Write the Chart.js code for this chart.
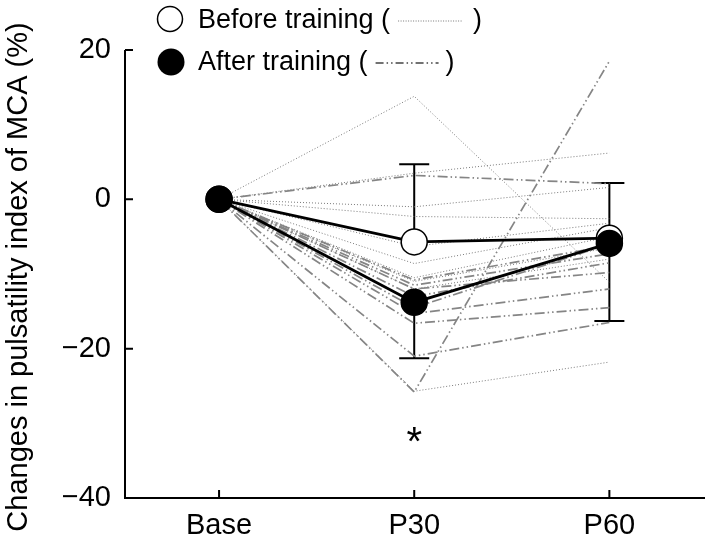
<!DOCTYPE html>
<html lang="en">
<head>
    <meta charset="UTF-8">
    <title>Pulsatility index of MCA</title>
    <script src="https://cdn.jsdelivr.net/npm/chart.js"></script>
    <style>
        body { margin: 0; background: #fff; }
        #wrap { width: 709px; height: 547px; }
    </style>
</head>
<body>
    <div id="wrap"><canvas id="myChart"></canvas></div>
    <script>
        // time points
        const labels = ['Base', 'P30', 'P60'];
        const yTicks = [20, 0, -20, -40];

        // individual subjects, before training (dotted)
        const before = [
            [0, 13.8, -11.1],
            [0, 3.5, 6.2],
            [0, -1.0, 1.6],
            [0, -2.3, -2.6],
            [0, -6.3, -3.2],
            [0, -8.6, -3.8],
            [0, -11.0, -6.5],
            [0, -12.0, -8.0],
            [0, -25.7, -21.8],
            [0, -10.5, -5.0]
        ];

        // individual subjects, after training (dash-dot)
        const after = [
            [0, 3.2, 2.1],
            [0, -10.8, -6.2],
            [0, -11.5, -7.3],
            [0, -12.0, -9.8],
            [0, -13.0, -8.5],
            [0, -15.3, -12.0],
            [0, -16.6, -14.5],
            [0, -21.0, -16.5],
            [0, -25.8, 18.5],
            [0, -14.5, -6.0]
        ];

        // group means and SD (before: bar up, after: bar down)
        const meanBefore = [0, -5.7, -5.2];
        const sdBefore = [0, 10.4, 7.4];
        const meanAfter = [0, -13.8, -5.9];
        const sdAfter = [0, 7.5, 10.4];

        const font = "'Liberation Sans', Arial, sans-serif";

        function pts(arr) {
            return arr.map((v, i) => ({ x: i, y: v }));
        }

        const datasets = [];
        before.forEach(s => datasets.push({
            data: pts(s), borderColor: '#7a7a7a', borderWidth: 1,
            borderDash: [1, 2], pointRadius: 0, order: 3
        }));
        after.forEach(s => datasets.push({
            data: pts(s), borderColor: '#858585', borderWidth: 1.7,
            borderDash: [10, 3, 1.5, 3, 1.5, 3], pointRadius: 0, order: 2
        }));
        datasets.push({
            data: pts(meanBefore), borderColor: '#000', borderWidth: 2.8,
            pointRadius: 13, pointBackgroundColor: '#fff', pointBorderColor: '#000',
            pointBorderWidth: 1.5, order: 1
        });
        datasets.push({
            data: pts(meanAfter), borderColor: '#000', borderWidth: 2.8,
            pointRadius: 13, pointBackgroundColor: '#000', pointBorderColor: '#000',
            pointBorderWidth: 1.5, order: 0
        });

        const errorBars = {
            id: 'errorBars',
            beforeDatasetsDraw(chart) {
                const { ctx, scales: { x, y } } = chart;
                ctx.save();
                ctx.strokeStyle = '#000';
                ctx.lineWidth = 2;
                const bar = (i, m, end) => {
                    const px = x.getPixelForValue(i);
                    ctx.beginPath();
                    ctx.moveTo(px, y.getPixelForValue(m));
                    ctx.lineTo(px, y.getPixelForValue(end));
                    ctx.moveTo(px - 15, y.getPixelForValue(end));
                    ctx.lineTo(px + 15, y.getPixelForValue(end));
                    ctx.stroke();
                };
                for (let i = 1; i < labels.length; i++) {
                    bar(i, meanBefore[i], meanBefore[i] + sdBefore[i]);
                    bar(i, meanAfter[i], meanAfter[i] - sdAfter[i]);
                }
                ctx.restore();
            }
        };

        const decorations = {
            id: 'decorations',
            afterDraw(chart) {
                const { ctx, scales: { x, y } } = chart;
                ctx.save();
                // axes with inward ticks
                ctx.strokeStyle = '#000';
                ctx.lineWidth = 2;
                const left = x.left, bottom = y.bottom;
                ctx.beginPath();
                ctx.moveTo(left, y.top);
                ctx.lineTo(left, bottom);
                ctx.lineTo(x.right, bottom);
                yTicks.forEach(v => {
                    const py = y.getPixelForValue(v);
                    ctx.moveTo(left, py);
                    ctx.lineTo(left + 8, py);
                });
                labels.forEach((l, i) => {
                    const px = x.getPixelForValue(i);
                    ctx.moveTo(px, bottom);
                    ctx.lineTo(px, bottom - 8);
                });
                ctx.stroke();

                // asterisk
                ctx.fillStyle = '#000';
                ctx.font = '40px ' + font;
                ctx.textAlign = 'center';
                ctx.textBaseline = 'middle';
                ctx.fillText('*', x.getPixelForValue(1), 444);

                // y axis title
                ctx.save();
                ctx.translate(19, 277);
                ctx.rotate(-Math.PI / 2);
                ctx.font = '29px ' + font;
                ctx.fillText('Changes in pulsatility index of MCA (%)', 0, 0);
                ctx.restore();

                // legend
                ctx.font = '27px ' + font;
                ctx.textAlign = 'left';
                ctx.lineWidth = 1.5;
                ctx.beginPath();
                ctx.arc(170, 19, 12.5, 0, Math.PI * 2);
                ctx.fillStyle = '#fff';
                ctx.fill();
                ctx.stroke();
                ctx.beginPath();
                ctx.arc(171, 62, 13.5, 0, Math.PI * 2);
                ctx.fillStyle = '#000';
                ctx.fill();

                let t = 'Before training (';
                ctx.fillText(t, 198, 21);
                let sx = 198 + ctx.measureText(t).width + 8;
                ctx.strokeStyle = '#777';
                ctx.lineWidth = 1;
                ctx.setLineDash([1, 1.5]);
                ctx.beginPath();
                ctx.moveTo(sx, 21);
                ctx.lineTo(sx + 64, 21);
                ctx.stroke();
                ctx.fillText(')', sx + 75, 21);

                t = 'After training (';
                ctx.fillText(t, 198, 63);
                sx = 198 + ctx.measureText(t).width + 8;
                ctx.strokeStyle = '#444';
                ctx.lineWidth = 1.5;
                ctx.setLineDash([8, 3, 1.5, 3, 1.5, 3]);
                ctx.beginPath();
                ctx.moveTo(sx, 63);
                ctx.lineTo(sx + 63, 63);
                ctx.stroke();
                ctx.setLineDash([]);
                ctx.fillText(')', sx + 70, 63);
                ctx.restore();
            }
        };

        const ctx = document.getElementById('myChart').getContext('2d');
        const myChart = new Chart(ctx, {
            type: 'line',
            data: { datasets: datasets },
            options: {
                responsive: true,
                maintainAspectRatio: false,
                animation: false,
                events: [],
                layout: { autoPadding: false, padding: { top: 50, right: 4, left: 0, bottom: 0 } },
                plugins: { legend: { display: false }, tooltip: { enabled: false } },
                elements: { line: { tension: 0 } },
                scales: {
                    x: {
                        type: 'linear',
                        min: -0.482,
                        max: 2.49,
                        afterBuildTicks: s => { s.ticks = labels.map((l, i) => ({ value: i })); },
                        afterFit: s => { s.height = 49; },
                        grid: { display: false, drawTicks: false },
                        border: { display: false },
                        ticks: {
                            padding: 11,
                            color: '#000',
                            font: { size: 29, family: font },
                            callback: v => labels[v]
                        }
                    },
                    y: {
                        min: -40,
                        max: 20,
                        afterBuildTicks: s => { s.ticks = yTicks.map(v => ({ value: v })); },
                        afterFit: s => { s.width = 125; },
                        grid: { display: false, drawTicks: false },
                        border: { display: false },
                        ticks: {
                            padding: 14,
                            color: '#000',
                            font: { size: 29, family: font },
                            callback: v => v < 0 ? '\u2212' + Math.abs(v) : String(v)
                        }
                    }
                }
            },
            plugins: [errorBars, decorations]
        });
    </script>
</body>
</html>
